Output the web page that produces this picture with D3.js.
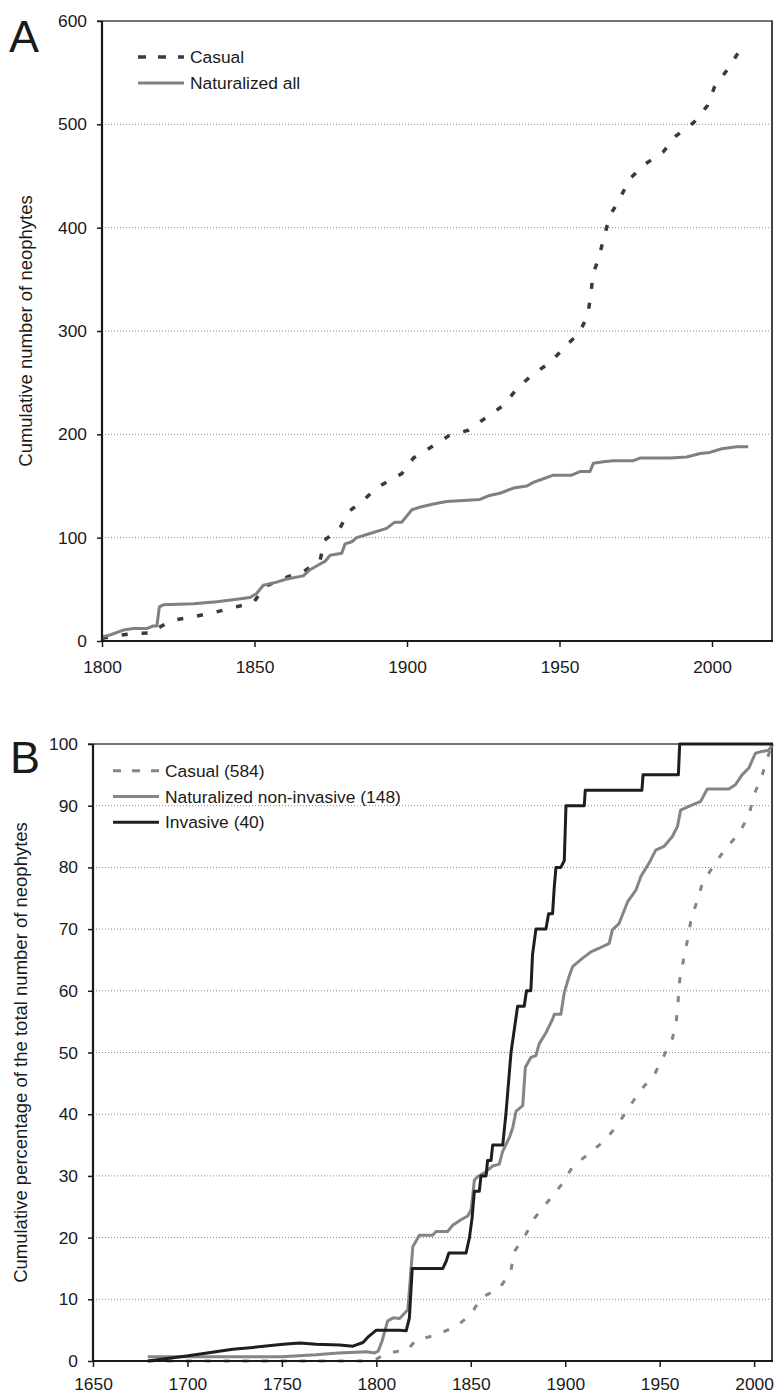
<!DOCTYPE html>
<html>
<head>
<meta charset="utf-8">
<script src="https://cdn.jsdelivr.net/npm/d3@7"></script>
<style>
  body { margin: 0; background: #fff; }
  svg text { font-family: "Liberation Sans", Arial, sans-serif; fill: #1a1a1a; }
  .grid line { stroke: #8a8a8a; stroke-width: 1; stroke-dasharray: 1,2; }
  .axis path, .axis line { stroke: #1a1a1a; }
</style>
</head>
<body>
<div id="chart"></div>
<script>

// panel A: cumulative number of neophytes [year, count]
var casualA = [[1800,2.6],[1804,4.8],[1811,7.4],[1817,8],[1818,12],[1823,20],[1829,23],[1836,27],
  [1842.5,32],[1849.6,37],[1853.4,52.5],[1859.4,60.6],[1866,67],[1871.5,78],[1873,97.7],[1878,109],
  [1880.8,125],[1885.6,136],[1890,148],[1894,155],[1898.3,162],[1902.1,177],[1908.1,188],[1913.9,199],
  [1920.1,204],[1926.3,217],[1931.6,228],[1936,244],[1941.2,258],[1947.2,270],[1951.8,285],[1956.5,298],
  [1959.2,315],[1960.3,335],[1960.9,354],[1963,372],[1964.6,391],[1966.6,412],[1969.8,428],[1972.9,447],
  [1978.3,462],[1983.9,473],[1988.3,489],[1994.1,502],[1998.5,518],[2000.8,536],[2005.3,554],[2009.4,573],[2011,578]];

var naturalizedA = [[1800,4],[1802.6,5.8],[1807,10.6],[1810.3,12],[1814.6,12],[1816.8,14.5],[1818,14.5],
  [1818.8,33],[1820.1,35],[1830,36],[1837.6,38],[1843,40],[1848.5,42],[1850.7,46],[1852.9,54],[1857.3,57],
  [1860.6,60],[1866,63],[1868.2,69],[1870.9,73.5],[1873.1,77],[1874.8,83],[1878.6,85],[1879.7,94],
  [1881.9,96],[1883.5,100],[1887.9,104],[1893.3,109],[1896,115],[1898.3,115],[1901.6,127],[1904.8,130],
  [1908.6,132.5],[1913,135],[1918.5,136],[1923.9,137],[1926.7,140.5],[1930.5,143],[1934.9,148],
  [1939.3,150],[1941.4,153.5],[1944.7,157],[1948,160.5],[1954,160.5],[1956.7,164],[1960,164],[1961.1,172],
  [1964.4,173.5],[1967.6,174.5],[1974.2,174.5],[1976.4,177],[1986.2,177],[1991.7,178],[1996.1,181.5],
  [1999.3,182.5],[2003.2,186],[2008.1,188],[2011.9,188]];

// panel B: cumulative percentage [year, %]
var casualB = [[1679,0],[1795,0],[1800,0.3],[1805.2,1.2],[1812,1.6],[1816,1.6],[1821,3.4],[1831.6,4.2],
  [1842.2,5.6],[1850,7.5],[1855.4,10.2],[1865,11.8],[1871,14.2],[1873,17.7],[1878.9,20.4],[1883.6,23.1],
  [1891.5,26.1],[1898.6,28.8],[1903.9,31.5],[1913.3,33.8],[1921.5,35.9],[1928.2,38.5],[1933.5,41],
  [1939.7,43.8],[1947.5,46.6],[1952.3,49.5],[1956.7,52.2],[1958.8,55.1],[1959.7,58.1],[1960.6,61.7],
  [1962.6,65],[1964.7,68.2],[1966.4,71.2],[1969.4,74.2],[1972.6,77.4],[1978.8,80.4],[1985,83.1],
  [1992,85.5],[1997.3,88.5],[1999.9,91.7],[2004.3,95],[2008.2,98.8],[2009,100]];

var naturalizedB = [[1679,0.7],[1750,0.7],[1768,1],[1780,1.3],[1795,1.5],[1799,1.3],[1801,1.6],[1803,3.2],
  [1806,6.5],[1809,7],[1812.3,6.9],[1816.7,8.3],[1819.3,18.5],[1822.8,20.4],[1829.9,20.4],[1831.6,21],
  [1837.8,21],[1840.4,22],[1844.8,22.9],[1848.4,23.5],[1850.2,24.5],[1851.9,29.3],[1853.7,29.9],
  [1857.2,30.5],[1861.6,31.6],[1865.1,31.9],[1866.9,34],[1870.4,36.2],[1872.2,37.8],[1874,40.5],
  [1877.5,41.4],[1878.9,47.6],[1881.8,49.2],[1884.5,49.5],[1886.2,51.4],[1889.8,53.2],[1893.3,55.4],
  [1894.2,56.2],[1897.7,56.2],[1899.5,59.7],[1902.1,62.4],[1903.9,63.9],[1909.2,65.3],[1913.6,66.3],
  [1918,66.9],[1923.3,67.7],[1925,69.9],[1928.5,70.9],[1933,74.4],[1937.4,76.3],[1940,78.5],[1944.4,80.7],
  [1947.9,82.8],[1952.3,83.4],[1956.7,85],[1959.4,86.6],[1961.1,89.3],[1965.5,89.9],[1971.7,90.7],
  [1975.2,92.7],[1986.6,92.7],[1990.1,93.4],[1993.6,95],[1997.2,96.1],[2000.7,98.5],[2004.2,98.8],
  [2007.7,99],[2010,100]];

var invasiveB = [[1679,0],[1699.5,0.8],[1724,1.9],[1734.7,2.2],[1750.6,2.7],[1759.4,2.9],[1768.2,2.7],
  [1780.5,2.6],[1787.6,2.4],[1792.9,3],[1796,4],[1800,5],[1812.3,5],[1815.8,4.9],[1817.5,7],[1819,15],
  [1835.2,15],[1837,16.2],[1838.4,17.5],[1847.5,17.5],[1849.3,20],[1850.7,23.2],[1851.9,27.5],
  [1854.5,27.5],[1855.4,30],[1858.1,30],[1858.9,32.5],[1860.7,32.5],[1861.6,35],[1866.9,35],[1868.6,40],
  [1871.3,50],[1874.8,57.5],[1878.3,57.5],[1879.5,60],[1881.8,60],[1882.7,65.9],[1884.5,70],[1889.8,70],
  [1891.2,72.5],[1893.3,72.5],[1894.2,76.8],[1895.1,80],[1897.7,80],[1899.5,81.1],[1900.4,90],
  [1910.1,90],[1910.6,92.5],[1940.6,92.5],[1941.2,95],[1959.9,95],[1960.6,100],[2010,100]];

var yTicksA = [0,100,200,300,400,500,600];
var xTicksA = [1800,1850,1900,1950,2000];
var yTicksB = [0,10,20,30,40,50,60,70,80,90,100];
var xTicksB = [1650,1700,1750,1800,1850,1900,1950,2000];

var width = 774, height = 1395;
var fontSize = 17.4;

var svg = d3.select("#chart").append("svg")
  .attr("width", width)
  .attr("height", height);

function drawPanel(cfg) {
  var x = d3.scaleLinear().domain(cfg.xDomain).range([cfg.left, cfg.right]);
  var y = d3.scaleLinear().domain(cfg.yDomain).range([cfg.bottom, cfg.top]);
  var g = svg.append("g");

  // dotted gridlines
  g.append("g").attr("class", "grid")
    .selectAll("line")
    .data(cfg.yTicks.slice(1, -1))
    .enter().append("line")
    .attr("x1", cfg.left).attr("x2", cfg.right)
    .attr("y1", function(d) { return y(d); })
    .attr("y2", function(d) { return y(d); });

  // top and right frame
  g.append("line")
    .attr("x1", cfg.left - 5).attr("x2", cfg.right)
    .attr("y1", cfg.top).attr("y2", cfg.top)
    .attr("stroke", "#444").attr("stroke-width", 1.5);
  g.append("line")
    .attr("x1", cfg.right - 1).attr("x2", cfg.right - 1)
    .attr("y1", cfg.top).attr("y2", cfg.bottom)
    .attr("stroke", "#444").attr("stroke-width", 2);

  var line = d3.line()
    .x(function(d) { return x(d[0]); })
    .y(function(d) { return y(d[1]); });

  cfg.series.forEach(function(s) {
    g.append("path")
      .datum(s.data)
      .attr("fill", "none")
      .attr("stroke", s.color)
      .attr("stroke-width", s.width)
      .attr("stroke-dasharray", s.dash || null)
      .attr("stroke-linejoin", "round")
      .attr("d", line);
  });

  var yAxis = g.append("g").attr("class", "axis")
    .attr("transform", "translate(" + cfg.left + ",0)")
    .call(d3.axisLeft(y).tickValues(cfg.yTicks).tickSize(5).tickPadding(10));
  var xAxis = g.append("g").attr("class", "axis")
    .attr("transform", "translate(0," + cfg.bottom + ")")
    .call(d3.axisBottom(x).tickValues(cfg.xTicks).tickFormat(d3.format("d")).tickSize(6).tickPadding(cfg.xPad));
  [yAxis, xAxis].forEach(function(a) {
    a.select(".domain").attr("stroke-width", 2.2);
    a.selectAll(".tick line").attr("stroke-width", 1.5);
    a.selectAll("text").style("font-size", fontSize + "px").attr("fill", "#1a1a1a");
  });
  xAxis.select(".domain").attr("d", "M" + cfg.left + ",0H" + cfg.right);
  yAxis.select(".domain").attr("d", "M0," + cfg.bottom + "V" + cfg.top);

  // y title
  g.append("text")
    .attr("transform", "translate(" + cfg.titleX + "," + ((cfg.top + cfg.bottom) / 2) + ") rotate(-90)")
    .attr("text-anchor", "middle")
    .attr("dominant-baseline", "central")
    .style("font-size", cfg.titleSize + "px")
    .text(cfg.title);

  // panel letter
  g.append("text")
    .attr("x", cfg.letterX).attr("y", cfg.letterY)
    .style("font-size", "45px")
    .text(cfg.letter);

  // legend
  var lg = g.selectAll(".legend")
    .data(cfg.series)
    .enter().append("g")
    .attr("transform", function(d, i) { return "translate(" + cfg.legendX + "," + (cfg.legendY + i * cfg.legendStep) + ")"; });
  lg.append("line")
    .attr("x1", 0).attr("x2", 46)
    .attr("stroke", function(d) { return d.color; })
    .attr("stroke-width", function(d) { return d.width; })
    .attr("stroke-dasharray", function(d) { return d.legendDash || null; });
  lg.append("text")
    .attr("x", 52)
    .attr("dominant-baseline", "central")
    .style("font-size", fontSize + "px")
    .text(function(d) { return d.name; });
}

drawPanel({
  left: 102, right: 773, top: 21, bottom: 641,
  xDomain: [1800, 2020], yDomain: [0, 600],
  xTicks: xTicksA, yTicks: yTicksA, xPad: 14,
  title: "Cumulative number of neophytes", titleX: 25, titleSize: 18.5,
  letter: "A", letterX: 9, letterY: 52,
  legendX: 138, legendY: 57, legendStep: 26,
  series: [
    {name: "Casual", data: casualA, color: "#3a3a3a", width: 3.5, dash: "6,14", legendDash: "8,12"},
    {name: "Naturalized all", data: naturalizedA, color: "#808080", width: 3}
  ]
});

drawPanel({
  left: 93, right: 773, top: 744, bottom: 1361,
  xDomain: [1650, 2010], yDomain: [0, 100],
  xTicks: xTicksB, yTicks: yTicksB, xPad: 11,
  title: "Cumulative percentage of the total number of neophytes", titleX: 20, titleSize: 18.5,
  letter: "B", letterX: 10, letterY: 773,
  legendX: 113, legendY: 770.7, legendStep: 25.8,
  series: [
    {name: "Casual (584)", data: casualB, color: "#858585", width: 3, dash: "6,13", legendDash: "8,11"},
    {name: "Naturalized non-invasive (148)", data: naturalizedB, color: "#858585", width: 3},
    {name: "Invasive (40)", data: invasiveB, color: "#1e1e1e", width: 3}
  ]
});

</script>
</body>
</html>
